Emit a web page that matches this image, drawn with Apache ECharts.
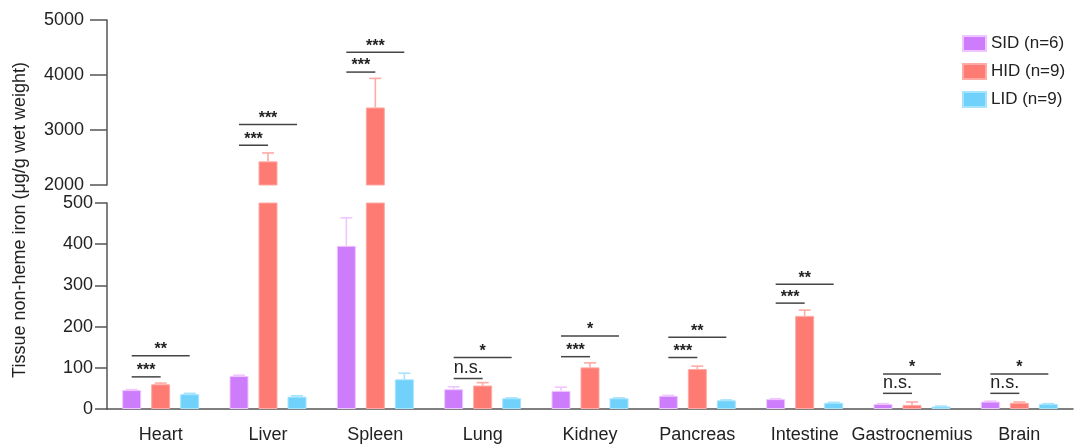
<!DOCTYPE html>
<html>
<head>
<meta charset="utf-8">
<script src="https://cdn.jsdelivr.net/npm/echarts@6/dist/echarts.min.js"></script>
<style>
  html, body { margin: 0; padding: 0; background: #fff; }
  #main { width: 1079px; height: 447px; }
</style>
</head>
<body>
<div id="main"></div>
<script>
var tissues = ['Heart', 'Liver', 'Spleen', 'Lung', 'Kidney', 'Pancreas', 'Intestine', 'Gastrocnemius', 'Brain'];
var groupNames = ['SID (n=6)', 'HID (n=9)', 'LID (n=9)'];

// means
var sid = [46, 80, 396, 48, 44, 32, 24, 12, 18];
var hid = [60, 2430, 3410, 57, 101, 97, 226, 10, 15];
var lid = [36, 30, 72, 26, 26, 21, 15, 6, 12];
// upper end of error bars
var sidErr = [47, 82, 464, 54, 53, 33, 25, 13, 19];
var hidErr = [63, 2583, 3938, 64, 112, 104, 240, 17, 17];
var lidErr = [38, 32, 87, 27, 27, 22, 16, 7, 13];

// significance: [tissue index, y value, target group (1 = HID, 2 = LID), label]
var sigMarks = [
    [0, 78, 1, '***'], [0, 129, 2, '**'],
    [1, 2723, 1, '***'], [1, 3100, 2, '***'],
    [2, 4053, 1, '***'], [2, 4412, 2, '***'],
    [3, 74, 1, 'n.s.'], [3, 125, 2, '*'],
    [4, 127, 1, '***'], [4, 177, 2, '*'],
    [5, 125, 1, '***'], [5, 174, 2, '**'],
    [6, 257, 1, '***'], [6, 303, 2, '**'],
    [7, 38, 1, 'n.s.'], [7, 85, 2, '*'],
    [8, 38, 1, 'n.s.'], [8, 85, 2, '*']
];

var colors = ['#cd7cfc', '#fe7b73', '#70d2fb'];
var errColors = ['#efc6ff', '#ffaaa5', '#a6e3fd'];
var barW = 19;
var barGapPx = 10;
var font = 'Arial, "Liberation Sans", Helvetica, sans-serif';

var myChart = echarts.init(document.getElementById('main'));

function offsetOf(g) {
    return (g - 1) * (barW + barGapPx);
}

function errorSeries(gridIdx, g, means, tops) {
    var data = [];
    for (var i = 0; i < tissues.length; i++) {
        data.push([i, means[i], tops[i]]);
    }
    return {
        type: 'custom',
        xAxisIndex: gridIdx,
        yAxisIndex: gridIdx,
        clip: true,
        silent: true,
        z: 1,
        data: data,
        renderItem: function (params, api) {
            var lo = api.coord([api.value(0), api.value(1)]);
            var hi = api.coord([api.value(0), api.value(2)]);
            var x = lo[0] + offsetOf(g);
            var style = { stroke: errColors[g], lineWidth: 1.6 };
            return {
                type: 'group',
                children: [
                    { type: 'line', shape: { x1: x, y1: lo[1], x2: x, y2: hi[1] }, style: style },
                    { type: 'line', shape: { x1: x - 6, y1: hi[1], x2: x + 6, y2: hi[1] }, style: style }
                ]
            };
        }
    };
}

function sigSeries(gridIdx, marks) {
    return {
        type: 'custom',
        xAxisIndex: gridIdx,
        yAxisIndex: gridIdx,
        clip: false,
        silent: true,
        z: 5,
        data: marks,
        renderItem: function (params, api) {
            var p = api.coord([api.value(0), api.value(1)]);
            var x1 = p[0] + offsetOf(0);
            var x2 = p[0] + offsetOf(api.value(2));
            var label = marks[params.dataIndex][3];
            var isNs = label === 'n.s.';
            return {
                type: 'group',
                children: [
                    { type: 'line', shape: { x1: x1, y1: p[1], x2: x2, y2: p[1] },
                      style: { stroke: '#444', lineWidth: 1.5 } },
                    { type: 'text',
                      style: {
                          x: (x1 + x2) / 2,
                          y: isNs ? p[1] - 1 : p[1] - 6,
                          text: label,
                          align: 'center',
                          verticalAlign: isNs ? 'bottom' : 'middle',
                          fill: '#222',
                          font: isNs ? '18px ' + font : 'bold 16px ' + font
                      } }
                ]
            };
        }
    };
}

var lowMarks = sigMarks.filter(function (m) { return m[1] < 500; });
var highMarks = sigMarks.filter(function (m) { return m[1] >= 2000; });

var means = [sid, hid, lid];
var tops = [sidErr, hidErr, lidErr];

var series = [];
for (var gi = 0; gi < 2; gi++) {
    for (var g = 0; g < 3; g++) {
        series.push({
            name: groupNames[g],
            type: 'bar',
            xAxisIndex: gi,
            yAxisIndex: gi,
            data: means[g],
            barWidth: barW,
            barGap: (barGapPx / barW * 100) + '%',
            clip: true,
            z: 2,
            itemStyle: { color: colors[g], borderColor: errColors[g], borderWidth: 1 }
        });
    }
    for (var g2 = 0; g2 < 3; g2++) {
        series.push(errorSeries(gi, g2, means[g2], tops[g2]));
    }
}
series.push(sigSeries(0, highMarks));
series.push(sigSeries(1, lowMarks));

var axisLineStyle = { color: '#555', width: 1.5 };
var tickLabel = {
    color: '#222', fontSize: 18, fontFamily: font,
    formatter: function (v) { return String(v); }
};

var option = {
    animation: false,
    backgroundColor: '#fff',
    textStyle: { fontFamily: font },
    legend: {
        data: groupNames,
        orient: 'vertical',
        left: 957,
        top: 30,
        itemWidth: 23,
        itemHeight: 15,
        itemGap: 11,
        icon: 'rect',
        textStyle: { color: '#222', fontSize: 17, fontFamily: font }
    },
    grid: [
        { left: 107, width: 966, top: 20, height: 165 },
        { left: 107, width: 966, top: 203, height: 206 }
    ],
    xAxis: [
        {
            type: 'category', gridIndex: 0, data: tissues,
            axisLine: { show: false }, axisTick: { show: false }, axisLabel: { show: false }
        },
        {
            type: 'category', gridIndex: 1, data: tissues,
            axisLine: { lineStyle: axisLineStyle },
            axisTick: { length: 8, alignWithLabel: true, lineStyle: axisLineStyle },
            axisLabel: { color: '#222', fontSize: 18, fontFamily: font, margin: 17, interval: 0 }
        }
    ],
    yAxis: [
        {
            type: 'value', gridIndex: 0, min: 2000, max: 5000, interval: 1000,
            splitLine: { show: false },
            axisLine: { show: true, lineStyle: axisLineStyle },
            axisTick: { show: true, length: 17, lineStyle: axisLineStyle },
            axisLabel: Object.assign({ margin: 23 }, tickLabel)
        },
        {
            type: 'value', gridIndex: 1, min: 0, max: 500, interval: 100,
            splitLine: { show: false },
            axisLine: { show: true, lineStyle: axisLineStyle },
            axisTick: { show: true, length: 12, lineStyle: axisLineStyle },
            axisLabel: Object.assign({ margin: 14 }, tickLabel)
        }
    ],
    graphic: [
        {
            type: 'text',
            rotation: Math.PI / 2,
            x: 20,
            y: 220,
            style: {
                text: 'Tissue non-heme iron (μg/g wet weight)',
                fill: '#222',
                font: '18px ' + font,
                align: 'center',
                verticalAlign: 'middle'
            }
        }
    ],
    series: series
};

myChart.setOption(option);
</script>
</body>
</html>
